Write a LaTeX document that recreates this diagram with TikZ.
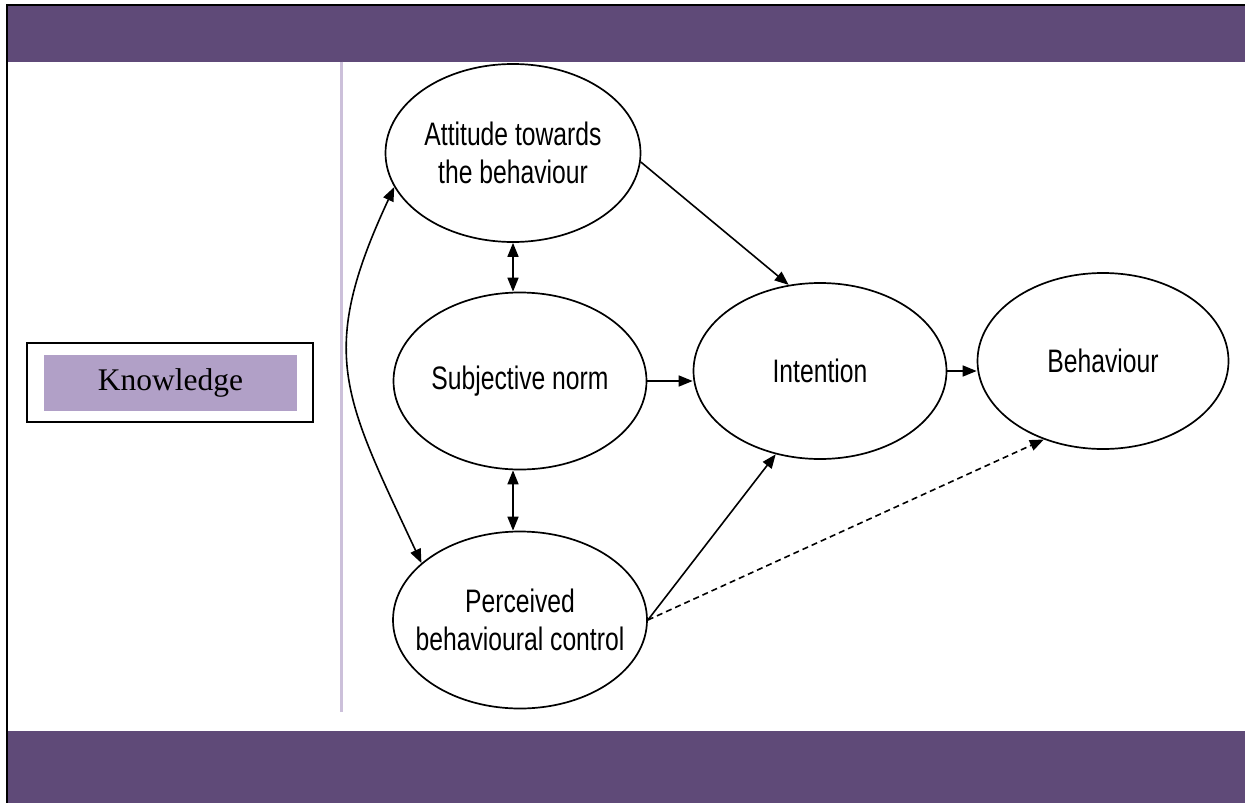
\documentclass[tikz,border=0pt]{standalone}
\usepackage{fontspec}
\usepackage{xcolor}
\usepackage{tikz}
\setmainfont{Liberation Serif}
\newfontfamily\diagfont[FakeStretch=0.76]{Liberation Sans}
\definecolor{barpurple}{RGB}{95,74,120}
\definecolor{lavline}{RGB}{204,192,218}
\definecolor{knowfill}{RGB}{177,160,199}
\usetikzlibrary{shapes.geometric,positioning,calc,arrows.meta}

\begin{document}
\begin{tikzpicture}[x=1pt,y=1pt,
    construct/.style={ellipse, draw, line width=1.7pt, inner sep=0pt, align=center,
        font=\diagfont\fontsize{32.5}{38}\selectfont},
    arr/.style={line width=1.6pt, -{Triangle[length=14pt,width=11pt]}},
    dbl/.style={line width=1.6pt, {Triangle[length=14pt,width=11pt]}-{Triangle[length=14pt,width=11pt]}}]
    \useasboundingbox (0,0) rectangle (1245,-803);

    % Header and footer bars
    \fill[barpurple] (8,-6) rectangle (1245,-61.5);
    \fill[barpurple] (8,-731) rectangle (1245,-803);
    \draw[line width=2.5pt] (7,-803) -- (7,-5) -- (1245,-5);

    % Column divider
    \draw[lavline, line width=3pt] (341.5,-61.5) -- (341.5,-712);

    % Knowledge
    \node[draw, line width=1.5pt, minimum width=286, minimum height=79] (know) at (170,-382.5) {};
    \node[fill=knowfill, minimum width=253, minimum height=56, font=\fontsize{31.5}{36}\selectfont] (knowtext) at (170.5,-383) {Knowledge};

    % Constructs
    \node[construct, inner xsep=-12pt, minimum width=255, minimum height=178] (att) at (513,-153) {Attitude towards\\the behaviour};
    \node[construct, minimum width=253, minimum height=177] (sub) at (520,-381) {Subjective norm};
    \node[construct, inner xsep=-30pt, minimum width=254, minimum height=177] (perc) at (520,-620) {Perceived\\behavioural control};
    \node[construct, minimum width=253, minimum height=176] (int) at (820,-371) {Intention};
    \node[construct, minimum width=251, minimum height=176] (beh) at (1103,-361) {Behaviour};

    % Correlations
    \draw[dbl] (att.south) -- (att.south |- sub.north);
    \draw[dbl] ($(sub.south)+(-7,0)$) -- ($(sub.south |- perc.north)+(-7,0)$);
    \draw[dbl] (att.196) to[out=245,in=115,looseness=1.25] (perc.150);

    % Paths to intention and behaviour
    \draw[arr] (att.-4) -- (int.110);
    \draw[arr] (sub.east) -- (sub.east -| int.west);
    \draw[arr] (perc.east) -- (int.242);
    \draw[arr] (int.east) -- (int.east -| beh.west);
    \draw[arr, dash pattern=on 6pt off 4pt] (perc.east) -- (beh.233);
\end{tikzpicture}
\end{document}
